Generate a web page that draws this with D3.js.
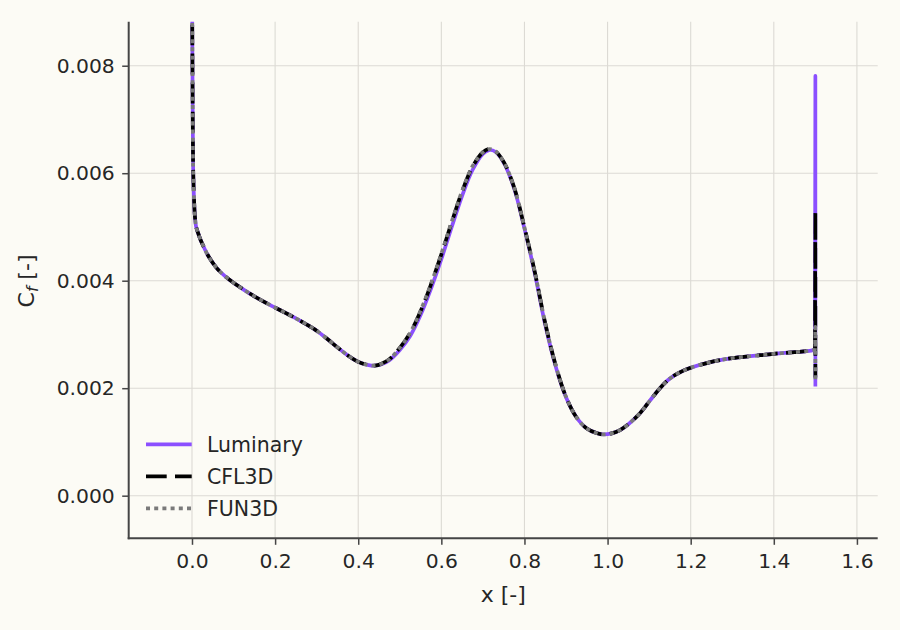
<!DOCTYPE html>
<html>
<head>
<meta charset="utf-8">
<script src="https://cdn.jsdelivr.net/npm/d3@7"></script>
<style>
  body { margin: 0; background: #fcfbf5; }
  text { font-family: "DejaVu Sans", sans-serif; fill: #262626; }
</style>
</head>
<body>
<script>
// Chart values
var xStations = [0, 0.0005, 0.001, 0.002, 0.003, 0.005, 0.007, 0.010, 0.015, 0.020,
  0.030, 0.040, 0.060, 0.080, 0.100, 0.125, 0.150, 0.175, 0.200, 0.225,
  0.250, 0.275, 0.300, 0.325, 0.350, 0.375, 0.400, 0.425, 0.440, 0.455,
  0.475, 0.500, 0.525, 0.550, 0.575, 0.600, 0.625, 0.650, 0.675, 0.700,
  0.715, 0.730, 0.750, 0.775, 0.800, 0.825, 0.850, 0.875, 0.900, 0.925,
  0.950, 0.975, 0.990, 1.010, 1.030, 1.050, 1.075, 1.100, 1.125, 1.150,
  1.175, 1.200, 1.250, 1.300, 1.350, 1.400, 1.450, 1.490, 1.499, 1.500, 1.500];

var luminaryCf = [0.0120, 0.0090, 0.0082, 0.0068, 0.0060, 0.0055, 0.0052, 0.00500, 0.00488, 0.00477,
  0.00460, 0.00445, 0.00423, 0.00408, 0.00396, 0.00383, 0.00371, 0.00360, 0.00350, 0.00340,
  0.00330, 0.00319, 0.00307, 0.00292, 0.00276, 0.00261, 0.00249, 0.00243, 0.00242, 0.00244,
  0.00252, 0.00271, 0.00297, 0.00336, 0.00385, 0.00440, 0.00500, 0.00558, 0.00606, 0.00636,
  0.00643, 0.00640, 0.00620, 0.00572, 0.00497, 0.00413, 0.00318, 0.00241, 0.00183, 0.00146,
  0.00125, 0.00116, 0.00114, 0.00116, 0.00122, 0.00133, 0.00151, 0.00175, 0.00199, 0.00218,
  0.00230, 0.00238, 0.00249, 0.00256, 0.00260, 0.00264, 0.00267, 0.00270, 0.00272, 0.00781, 0.00203];

var cfl3dCf = [0.0120, 0.0090, 0.0082, 0.0068, 0.0060, 0.0055, 0.0052, 0.00500, 0.00488, 0.00477,
  0.00460, 0.00445, 0.00423, 0.00408, 0.00396, 0.00383, 0.00371, 0.00360, 0.00350, 0.00340,
  0.00330, 0.00319, 0.00307, 0.00292, 0.00276, 0.00261, 0.00249, 0.00243, 0.00242, 0.00245,
  0.00254, 0.00275, 0.00303, 0.00343, 0.00393, 0.00449, 0.00509, 0.00566, 0.00612, 0.00639,
  0.00645, 0.00641, 0.00621, 0.00574, 0.00499, 0.00416, 0.00321, 0.00243, 0.00184, 0.00146,
  0.00125, 0.00116, 0.00114, 0.00116, 0.00122, 0.00133, 0.00151, 0.00175, 0.00199, 0.00218,
  0.00230, 0.00238, 0.00249, 0.00256, 0.00260, 0.00264, 0.00267, 0.00270, 0.00272, 0.00528, 0.00220];

var fun3dCf = [0.0120, 0.0090, 0.0082, 0.0068, 0.0060, 0.0055, 0.0052, 0.00500, 0.00488, 0.00477,
  0.00460, 0.00445, 0.00423, 0.00408, 0.00396, 0.00383, 0.00371, 0.00360, 0.00350, 0.00340,
  0.00330, 0.00319, 0.00307, 0.00292, 0.00276, 0.00261, 0.00249, 0.00243, 0.00242, 0.00245,
  0.00254, 0.00275, 0.00303, 0.00344, 0.00394, 0.00450, 0.00510, 0.00567, 0.00613, 0.00639,
  0.00645, 0.00641, 0.00621, 0.00574, 0.00499, 0.00416, 0.00321, 0.00243, 0.00184, 0.00146,
  0.00125, 0.00116, 0.00114, 0.00116, 0.00122, 0.00133, 0.00151, 0.00175, 0.00199, 0.00218,
  0.00230, 0.00238, 0.00249, 0.00256, 0.00260, 0.00264, 0.00267, 0.00270, 0.00272, 0.00314, 0.00210];

var seriesNames = ["Luminary", "CFL3D", "FUN3D"];
var xTicks = [0, 0.2, 0.4, 0.6, 0.8, 1.0, 1.2, 1.4, 1.6];
var yTicks = [0, 0.002, 0.004, 0.006, 0.008];

// Define SVG area dimensions
var svgWidth = 900;
var svgHeight = 630;

// Chart margins
var chartMargin = {
  top: 21.7,
  right: 22.3,
  bottom: 91.7,
  left: 128.7
};

var chartWidth = svgWidth - chartMargin.left - chartMargin.right;
var chartHeight = svgHeight - chartMargin.top - chartMargin.bottom;

// line styles per series
var seriesStyle = {
  "Luminary": { color: "#8b4fff", dash: null },
  "CFL3D": { color: "#000000", dash: "20.7,8.3" },
  "FUN3D": { color: "#7a7a7a", dash: "4,4.2" }
};

var svg = d3.select("body")
  .append("svg")
  .attr("width", svgWidth)
  .attr("height", svgHeight)
  .style("background", "#fcfbf5");

var chartGroup = svg.append("g")
  .attr("transform", `translate(${chartMargin.left}, ${chartMargin.top})`);

// scales
var xLinearScale = d3.scaleLinear()
  .domain([-0.1523, 1.6500])
  .range([0, chartWidth]);

var yLinearScale = d3.scaleLinear()
  .domain([-0.000793, 0.008819])
  .range([chartHeight, 0]);

// grid lines
chartGroup.append("g")
  .selectAll("line")
  .data(xTicks)
  .enter()
  .append("line")
  .attr("x1", d => xLinearScale(d))
  .attr("x2", d => xLinearScale(d))
  .attr("y1", 0)
  .attr("y2", chartHeight)
  .attr("stroke", "#dcdad4")
  .attr("stroke-width", 1.1);

chartGroup.append("g")
  .selectAll("line")
  .data(yTicks)
  .enter()
  .append("line")
  .attr("x1", 0)
  .attr("x2", chartWidth)
  .attr("y1", d => yLinearScale(d))
  .attr("y2", d => yLinearScale(d))
  .attr("stroke", "#dcdad4")
  .attr("stroke-width", 1.1);

// clip the curves to the plot area
svg.append("defs")
  .append("clipPath")
  .attr("id", "plotClip")
  .append("rect")
  .attr("width", chartWidth)
  .attr("height", chartHeight);

// smooth curve through the read-off stations, straight segments for the trailing-edge spike
var smoothLine = d3.line()
  .x(d => xLinearScale(d[0]))
  .y(d => yLinearScale(d[1]))
  .curve(d3.curveCatmullRom.alpha(0.5));

var straightLine = d3.line()
  .x(d => xLinearScale(d[0]))
  .y(d => yLinearScale(d[1]));

var tailStart = xStations.length - 3;

var seriesData = {
  "Luminary": xStations.map((x, i) => [x, luminaryCf[i]]),
  "CFL3D": xStations.map((x, i) => [x, cfl3dCf[i]]),
  "FUN3D": xStations.map((x, i) => [x, fun3dCf[i]])
};

var linesGroup = chartGroup.append("g")
  .attr("clip-path", "url(#plotClip)");

seriesNames.forEach(function(name) {
  var pts = seriesData[name];
  var d = smoothLine(pts.slice(0, tailStart + 1)) + straightLine(pts.slice(tailStart)).replace(/^M/, "L");
  linesGroup.append("path")
    .attr("d", d)
    .attr("fill", "none")
    .attr("stroke", seriesStyle[name].color)
    .attr("stroke-width", 3.7)
    .attr("stroke-linejoin", "round")
    .attr("stroke-dasharray", seriesStyle[name].dash);
});

// axes
var bottomAxis = d3.axisBottom(xLinearScale)
  .tickValues(xTicks)
  .tickFormat(d3.format(".1f"))
  .tickSize(6.5)
  .tickPadding(8.5);

var leftAxis = d3.axisLeft(yLinearScale)
  .tickValues(yTicks)
  .tickFormat(d3.format(".3f"))
  .tickSize(6.5)
  .tickPadding(7.5);

var xAxis = chartGroup.append("g")
  .attr("transform", `translate(0, ${chartHeight})`)
  .call(bottomAxis);

var yAxis = chartGroup.append("g")
  .call(leftAxis);

[xAxis, yAxis].forEach(function(ax) {
  ax.select(".domain").remove();
  ax.selectAll(".tick line")
    .attr("stroke", "#454545")
    .attr("stroke-width", 1.5);
  ax.selectAll(".tick text")
    .style("font-size", "20.3px")
    .style("font-family", "DejaVu Sans, sans-serif")
    .attr("fill", "#262626");
});

// spines (left and bottom only)
chartGroup.append("line")
  .attr("x1", 0).attr("x2", 0)
  .attr("y1", 0).attr("y2", chartHeight + 1)
  .attr("stroke", "#454545")
  .attr("stroke-width", 2);

chartGroup.append("line")
  .attr("x1", -1).attr("x2", chartWidth)
  .attr("y1", chartHeight).attr("y2", chartHeight)
  .attr("stroke", "#454545")
  .attr("stroke-width", 2);

// axis labels
chartGroup.append("text")
  .attr("x", chartWidth / 2)
  .attr("y", chartHeight + 64)
  .attr("text-anchor", "middle")
  .style("font-size", "22px")
  .text("x [-]");

var yLabel = chartGroup.append("text")
  .attr("transform", `translate(${-95}, ${chartHeight / 2 + 1}) rotate(-90)`)
  .attr("text-anchor", "middle")
  .style("font-size", "22px");
yLabel.append("tspan").text("C");
yLabel.append("tspan")
  .attr("dy", 4)
  .style("font-size", "15.5px")
  .style("font-style", "italic")
  .text("f");
yLabel.append("tspan")
  .attr("dy", -4)
  .text(" [-]");

// legend
var legendGroup = svg.append("g")
  .attr("transform", "translate(146, 444.3)");

var legendRows = legendGroup.selectAll("g")
  .data(seriesNames)
  .enter()
  .append("g")
  .attr("transform", (d, i) => `translate(0, ${i * 32})`);

legendRows.append("line")
  .attr("x1", 0)
  .attr("x2", 45.7)
  .attr("y1", 0)
  .attr("y2", 0)
  .attr("stroke", d => seriesStyle[d].color)
  .attr("stroke-width", 3.7)
  .attr("stroke-dasharray", d => seriesStyle[d].dash);

legendRows.append("text")
  .attr("x", 61)
  .attr("y", 0)
  .attr("dy", "0.36em")
  .style("font-size", "20.5px")
  .text(d => d);
</script>
</body>
</html>
